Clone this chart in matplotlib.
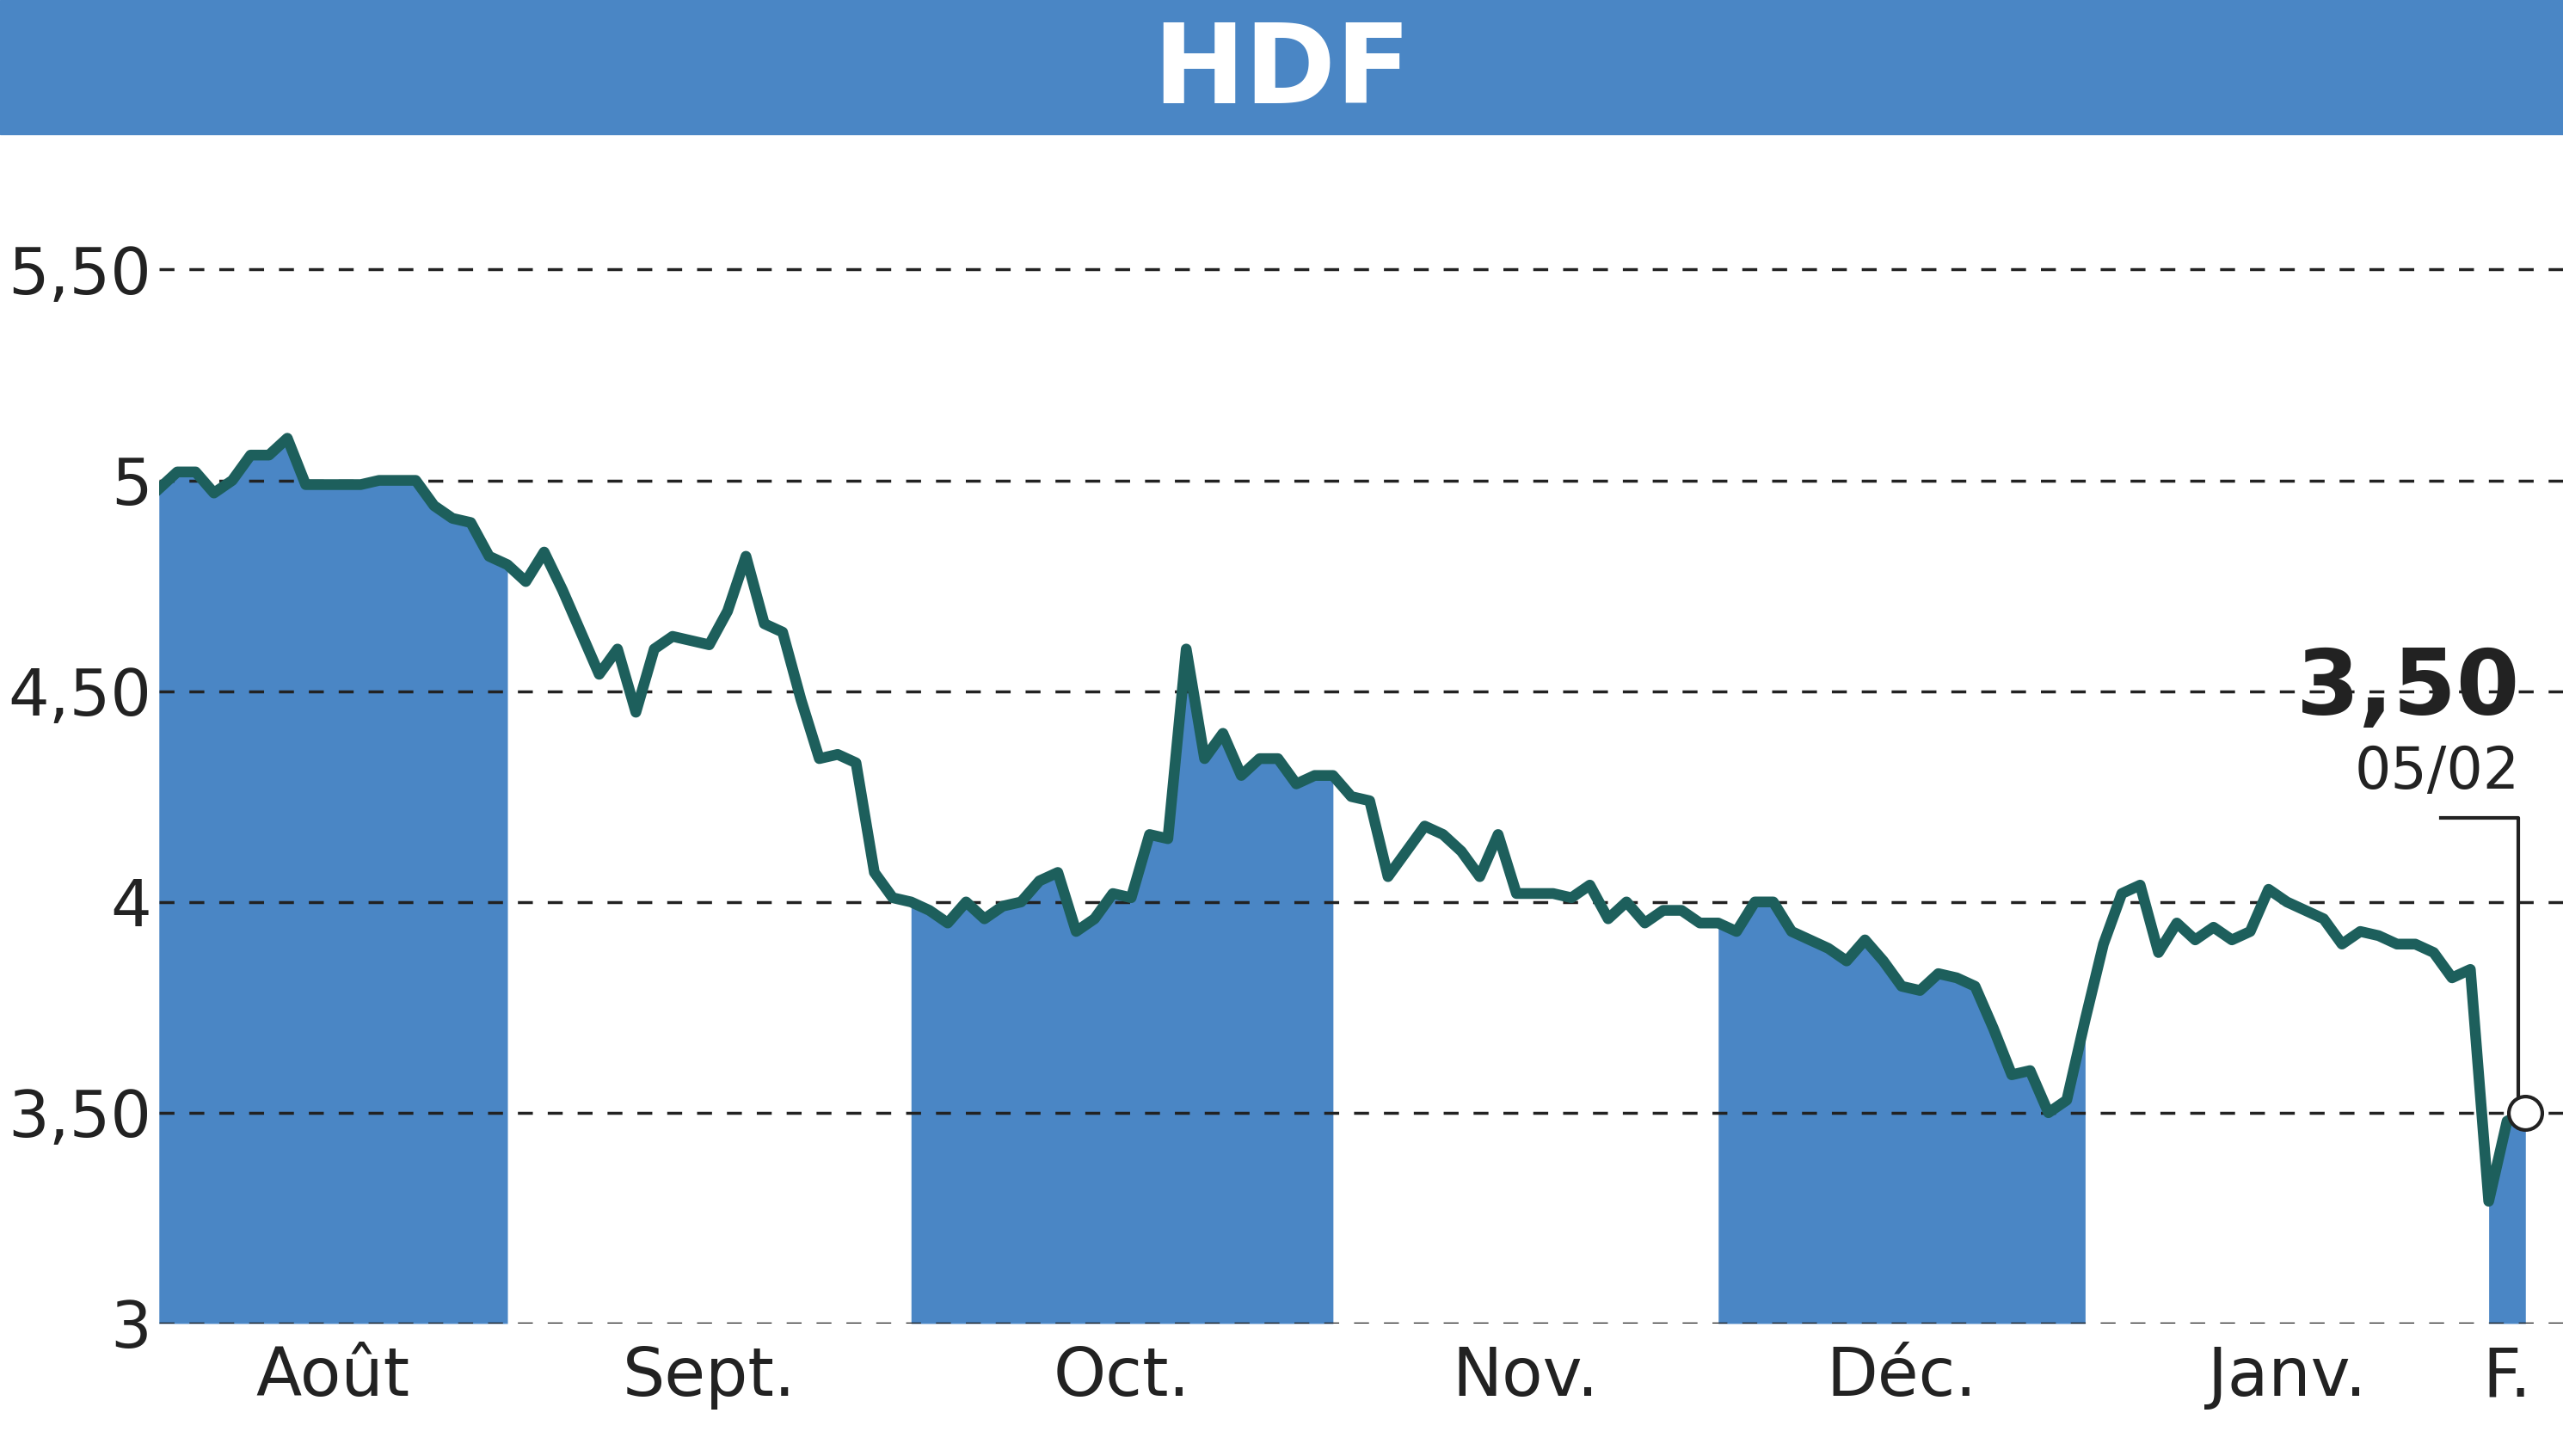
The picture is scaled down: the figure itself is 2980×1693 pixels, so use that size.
import matplotlib
matplotlib.use("Agg")
import matplotlib.pyplot as plt
from matplotlib.patches import Rectangle

months = ["Août", "Sept.", "Oct.", "Nov.", "Déc.", "Janv.", "F."]
aug = [4.98, 5.02, 5.02, 4.97, 5.0, 5.06, 5.06, 5.1, 4.99, 4.99, 4.99, 4.99, 5.0, 5.0, 5.0, 4.94, 4.91, 4.9, 4.82, 4.8]
sep = [4.76, 4.83, 4.74, 4.64, 4.54, 4.6, 4.45, 4.6, 4.63, 4.62, 4.61, 4.69, 4.82, 4.66, 4.64, 4.48, 4.34, 4.35, 4.33, 4.07, 4.01]
oct_ = [4.0, 3.98, 3.95, 4.0, 3.96, 3.99, 4.0, 4.05, 4.07, 3.93, 3.96, 4.02, 4.01, 4.16, 4.15, 4.6, 4.34, 4.4, 4.3, 4.34, 4.34, 4.28, 4.3, 4.3]
nov = [4.25, 4.24, 4.06, 4.12, 4.18, 4.16, 4.12, 4.06, 4.16, 4.02, 4.02, 4.02, 4.01, 4.04, 3.96, 4.0, 3.95, 3.98, 3.98, 3.95]
dec = [3.95, 3.93, 4.0, 4.0, 3.93, 3.91, 3.89, 3.86, 3.91, 3.86, 3.8, 3.79, 3.83, 3.82, 3.8, 3.7, 3.59, 3.6, 3.5, 3.53, 3.72]
jan = [3.9, 4.02, 4.04, 3.88, 3.95, 3.91, 3.94, 3.91, 3.93, 4.03, 4.0, 3.98, 3.96, 3.9, 3.93, 3.92, 3.9, 3.9, 3.88, 3.82, 3.84]
feb = [3.29, 3.48, 3.50]
series = [aug, sep, oct_, nov, dec, jan, feb]
yticks = [3, 3.5, 4, 4.5, 5, 5.5]
ylabels = ["3", "3,50", "4", "4,50", "5", "5,50"]

blue = "#4a86c5"
line = "#1d5f5c"
fig = plt.figure(figsize=(29.8, 16.93), dpi=100)
fig.patches.append(Rectangle((0, 0.908), 1, 0.092, transform=fig.transFigure, color=blue, zorder=0))
fig.text(0.5, 0.950, "HDF", ha="center", va="center", color="white", fontsize=92, fontweight="bold")

ax = fig.add_axes([0.062, 0.091, 0.938, 0.802])
vals, xs = [], []
i = 0
for m, s in enumerate(series):
    idx = list(range(i, i + len(s)))
    if m % 2 == 0:
        ax.fill_between(idx, 3, s, color=blue, lw=0, zorder=1)
    ax.text((idx[0] + idx[-1]) / 2, 2.95, months[m], ha="center", va="top", fontsize=56, color="#222222")
    xs += idx; vals += s
    i += len(s)
for y in yticks:
    ax.axhline(y, color="#222222", lw=2.5, ls=(0, (5, 5)), zorder=2)
ax.plot(xs, vals, color=line, lw=9, zorder=3, marker="o", ms=5, solid_joinstyle="round")
ax.plot(xs[-1], vals[-1], "o", ms=28, mfc="white", mec="#222222", mew=3, zorder=5)
ax.set_xlim(0, xs[-1] + 2.05)
ax.set_ylim(3, 5.77)
ax.set_yticks(yticks)
ax.set_yticklabels(ylabels, fontsize=54, color="#222222")
ax.tick_params(length=0, pad=6)
ax.set_xticks([])
for sp in ax.spines.values():
    sp.set_visible(False)
ax.plot([xs[-1] - 4.6, xs[-1] - 0.4, xs[-1] - 0.4], [4.2, 4.2, 3.52], color="#222222", lw=3, zorder=4)
ax.text(xs[-1] - 0.3, 4.4, "3,50", ha="right", va="bottom", fontsize=76, fontweight="bold", color="#222222")
ax.text(xs[-1] - 0.3, 4.24, "05/02", ha="right", va="bottom", fontsize=48, color="#222222")
fig.savefig("out.png", dpi=100)
